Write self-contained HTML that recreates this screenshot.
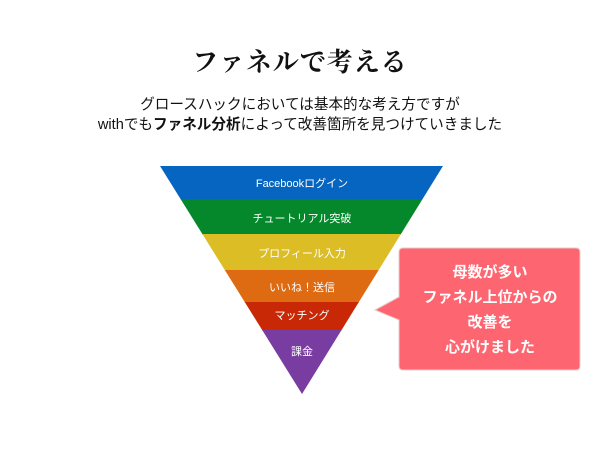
<!DOCTYPE html>
<html><head><meta charset="utf-8"><style>
body{margin:0;width:600px;height:450px;background:#fff;overflow:hidden;position:relative;font-family:"Liberation Sans","Noto Sans CJK JP",sans-serif}
.t{position:absolute;left:0;width:600px;text-align:center;color:#111}
</style></head><body>
<div class="t" style="top:45px;font-family:'Liberation Serif','Noto Serif CJK SC',serif;font-weight:bold;font-size:26px;letter-spacing:1px;line-height:36px">ファネルで考える</div>
<div class="t" style="top:95px;font-size:14.6px;line-height:20px">グロースハックにおいては基本的な考え方ですが</div>
<div class="t" style="top:115px;font-size:14.6px;line-height:20px">withでも<b>ファネル分析</b>によって改善箇所を見つけていきました</div>
<svg width="600" height="450" style="position:absolute;left:0;top:0" font-family="Liberation Sans, Noto Sans CJK JP, sans-serif">
<defs><clipPath id="c"><polygon points="160,166 443,166 302,394"/></clipPath></defs>
<g clip-path="url(#c)">
<rect x="150" y="160" width="300" height="40" fill="#0565c0"/>
<rect x="150" y="199" width="300" height="36" fill="#04882b"/>
<rect x="150" y="234" width="300" height="36" fill="#dcbd25"/>
<rect x="150" y="270" width="300" height="33" fill="#de6a12"/>
<rect x="150" y="302" width="300" height="29" fill="#c82806"/>
<rect x="150" y="330" width="300" height="70" fill="#793ca0"/>
</g>
<g fill="#fff" font-size="11" text-anchor="middle">
<text x="302" y="187">Facebookログイン</text>
<text x="302" y="222">チュートリアル突破</text>
<text x="302" y="257">プロフィール入力</text>
<text x="302" y="291">いいね！送信</text>
<text x="302" y="319">マッチング</text>
<text x="302" y="355">課金</text>
</g>
<path d="M403,248 H576 Q580,248 580,252 V366 Q580,370 576,370 H403 Q399,370 399,366 V320 L375,310 L399,297 V252 Q399,248 403,248 Z" fill="#fd6670" stroke="#e8cccc" stroke-width="1"/>
<g fill="#fff" font-size="15" font-weight="bold" text-anchor="middle">
<text x="490" y="277">母数が多い</text>
<text x="490" y="302">ファネル上位からの</text>
<text x="490" y="327">改善を</text>
<text x="490" y="352">心がけました</text>
</g>
</svg>
</body></html>
